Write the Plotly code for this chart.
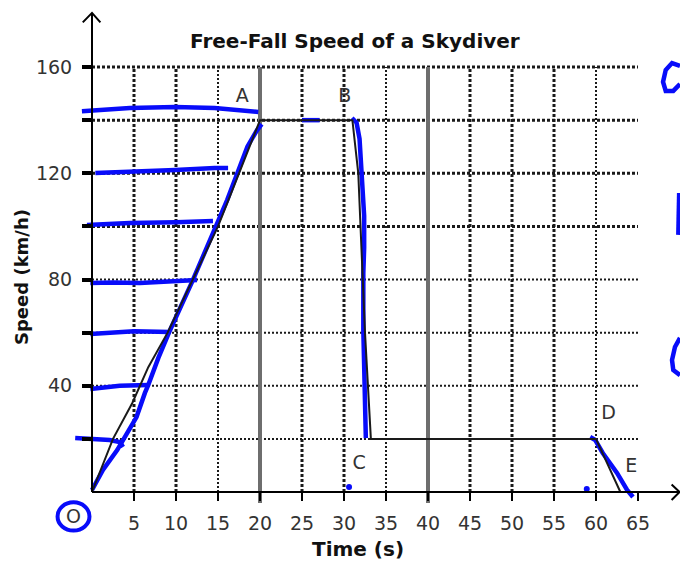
import plotly.graph_objects as go

# ---------------- data ----------------
# printed speed curve of the skydiver (time s, speed km/h)
curve_t = [0, 2.5, 4.8, 6.7, 9, 12, 15, 17.5, 20, 31, 31.7, 32.5, 33.2, 60, 62.9]
curve_v = [0, 20, 33.5, 47, 60, 80, 100, 120, 140, 140, 120, 60, 20, 20, 0]

# point labels
pt_names = ["A", "B", "C", "D", "E"]
pt_t = [17.9, 30.1, 31.8, 61.5, 64.2]
pt_v = [148.7, 148.7, 10.5, 29.4, 9.4]

# axis ticks
x_ticks = [5, 10, 15, 20, 25, 30, 35, 40, 45, 50, 55, 60, 65]
x_ticklabels = [str(v) for v in x_ticks]
y_ticks = [20, 40, 60, 80, 100, 120, 140, 160]
y_ticklabels = ["", "40", "", "80", "", "120", "", "160"]

# handwritten blue pen strokes (time, speed)
pen_strokes = [
    ([-1.2, 4.5, 9.9, 14.6, 19.8], [143.4, 144.6, 145.0, 144.6, 143.1]),
    ([0.4, 4.5, 9.9, 14.6, 16.2], [120.1, 120.5, 121.2, 122.0, 122.0]),
    ([-0.6, 4.5, 10.0, 14.4], [100.5, 101.3, 101.6, 102.0]),
    ([-0.2, 2.5, 5.7, 9.0, 11.7, 12.5], [78.7, 78.9, 78.7, 79.3, 79.8, 79.8]),
    ([-0.2, 2.5, 5.0, 9.3], [59.5, 60.0, 60.5, 60.2]),
    ([-0.2, 3.3, 6.7], [38.8, 40.0, 40.3]),
    ([-2.0, 2.1, 3.3, 3.7], [20.3, 19.6, 18.8, 16.9]),
    ([0, 1.3, 3.0, 4.2, 5.3, 6.3, 6.7, 7.9, 9.3, 11.9, 14.9, 16.1, 17.3, 18.5, 19.6, 20.2],
     [0.75, 8.3, 15.8, 22.2, 28.2, 37.3, 40.3, 50.5, 61, 79, 100.5, 110, 120, 130, 136, 138.5]),
    ([25.0, 27.1], [140, 140]),
    ([30.95, 31.5, 31.85, 32.1, 32.4, 32.4, 32.3, 32.3, 32.4, 32.6],
     [140.8, 139.0, 133.0, 120.0, 104.0, 92.0, 82.4, 61, 38.4, 20.3]),
    ([59.3, 59.9, 60.8, 62.5, 63.7, 64.4], [20.7, 19.6, 14.7, 7.2, 0.75, -1.9]),
    ([70, 69.05, 68.3, 67.98, 68.3, 69.2, 70], [160.4, 161.5, 158.9, 154.4, 151.0, 151.0, 153.6]),
    ([69.9, 69.8], [112.6, 96.8]),
    ([70, 69.4, 69.05, 69.2, 70], [58.0, 54.6, 49.7, 45.9, 44.0]),
]
pen_dots_t = [30.6, 58.9]
pen_dots_v = [1.9, 1.1]

# ---------------- geometry ----------------
W, H = 680, 566
X_RANGE = [-10.952, 70.0]
Y_RANGE = [-27.86, 185.24]
x_pos = (0 - Y_RANGE[0]) / (Y_RANGE[1] - Y_RANGE[0])
y_pos = (0 - X_RANGE[0]) / (X_RANGE[1] - X_RANGE[0])

PEN = "rgb(8,12,250)"
INK = "#1a1a1a"
WIDE = "DejaVu Sans, Verdana, sans-serif"

fig = go.Figure()

for xs, ys in pen_strokes:
    fig.add_trace(go.Scatter(x=xs, y=ys, mode="lines", line=dict(color=PEN, width=4.5),
                             hoverinfo="skip", showlegend=False))

fig.add_trace(go.Scatter(x=curve_t, y=curve_v, mode="lines", line=dict(color=INK, width=2),
                         showlegend=False, name="speed"))

fig.add_trace(go.Scatter(x=pen_dots_t, y=pen_dots_v, mode="markers",
                         marker=dict(color=PEN, size=6), showlegend=False, hoverinfo="skip"))

fig.add_trace(go.Scatter(x=pt_t, y=pt_v, mode="text", text=pt_names,
                         textfont=dict(family=WIDE, size=19, color="#333"), showlegend=False))

shapes = []
# grid lines
for v in y_ticks:
    thick = v >= 100
    shapes.append(dict(type="line", xref="x", yref="y", x0=0, x1=65, y0=v, y1=v, layer="below",
                       line=dict(color=INK, width=3 if thick else 2, dash="3px,2px" if thick else "2px,2px")))
for v in x_ticks[:-1]:
    if v in (20, 40):
        continue
    thin = v in (15, 35, 60)
    shapes.append(dict(type="line", xref="x", yref="y", x0=v, x1=v, y0=0, y1=160, layer="below",
                       line=dict(color=INK, width=2 if thin else 3, dash="2px,2px" if thin else "3px,2px")))
for v in (20, 40):
    shapes.append(dict(type="line", xref="x", yref="y", x0=v, x1=v, y0=-4.1, y1=160, layer="below",
                       line=dict(color="rgb(110,110,110)", width=4)))
# axis lines and arrow heads
shapes.append(dict(type="line", xref="x", yref="y", x0=0, x1=70, y0=0, y1=0, line=dict(color="black", width=2)))
shapes.append(dict(type="line", xref="x", yref="y", x0=0, x1=0, y0=0, y1=180, line=dict(color="black", width=2)))
shapes.append(dict(type="path", xref="x", yref="y", path="M -1.1 176.8 L 0 180.4 L 1.0 176.8",
                   line=dict(color="black", width=2)))
shapes.append(dict(type="path", xref="x", yref="y", path="M 69.0 2.8 L 69.95 0 L 69.0 -3.0",
                   line=dict(color="black", width=2)))
# pen circle around origin label
shapes.append(dict(type="circle", xref="x", yref="y", x0=-4.1, x1=-0.3, y0=-14.5, y1=-3.9,
                   line=dict(color=PEN, width=4)))

annotations = [
    dict(text="<b>Free-Fall Speed of a Skydiver</b>", xref="paper", yref="paper", x=355 / W, y=1 - 41 / H,
         showarrow=False, font=dict(family=WIDE, size=20, color="#111"), xanchor="center", yanchor="middle"),
    dict(text="<b>Time (s)</b>", xref="paper", yref="paper", x=358 / W, y=1 - 549 / H,
         showarrow=False, font=dict(family=WIDE, size=20, color="#111"), xanchor="center", yanchor="middle"),
    dict(text="<b>Speed (km/h)</b>", xref="paper", yref="paper", x=22 / W, y=1 - 277 / H, textangle=-90,
         showarrow=False, font=dict(family=WIDE, size=18, color="#111"), xanchor="center", yanchor="middle"),
    dict(text="O", xref="x", yref="y", x=-2.2, y=-9.2, showarrow=False,
         font=dict(family=WIDE, size=19, color="#333"), xanchor="center", yanchor="middle"),
]

fig.update_layout(
    width=W, height=H,
    margin=dict(l=0, r=0, t=0, b=0),
    paper_bgcolor="white", plot_bgcolor="white",
    shapes=shapes, annotations=annotations,
    xaxis=dict(range=X_RANGE, anchor="free", position=x_pos, showgrid=False, zeroline=False, showline=False,
               tickmode="array", tickvals=x_ticks, ticktext=x_ticklabels, ticks="outside", ticklen=8,
               tickwidth=2, tickcolor="black", ticklabelstandoff=6,
               tickfont=dict(family=WIDE, size=19, color="#333")),
    yaxis=dict(range=Y_RANGE, anchor="free", position=y_pos, showgrid=False, zeroline=False, showline=False,
               tickmode="array", tickvals=y_ticks, ticktext=y_ticklabels, ticks="outside", ticklen=10,
               tickwidth=4, tickcolor="black", ticklabelstandoff=6,
               tickfont=dict(family=WIDE, size=19, color="#333")),
)

fig.write_html("out.html", config={"displayModeBar": False},
               post_script="document.body.style.margin='0';")
